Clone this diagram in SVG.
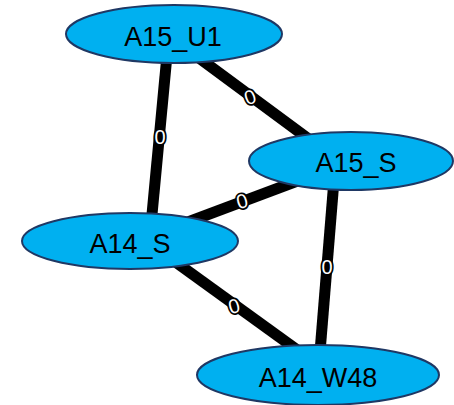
<svg xmlns="http://www.w3.org/2000/svg" width="454" height="405" viewBox="0 0 454 405">
<style>
.edge{stroke:#000;stroke-width:11;fill:none}
.node ellipse{fill:#00b0f0;stroke:#1f3864;stroke-width:2}
.node text{font-family:"Liberation Sans",Arial,sans-serif;font-size:27px;fill:#000;text-anchor:middle}
.lbl{font-family:"Liberation Sans",Arial,sans-serif;font-size:20px;fill:#fff;stroke:#000;stroke-width:3.5;paint-order:stroke;text-anchor:middle}
</style>
<rect width="454" height="405" fill="#fff"/>
<g id="connectors">
<line class="edge" x1="167" y1="55" x2="151" y2="225"/>
<line class="edge" x1="195" y1="55" x2="310" y2="140"/>
<line class="edge" x1="180" y1="225" x2="300" y2="180"/>
<line class="edge" x1="170" y1="258" x2="300" y2="352"/>
<line class="edge" x1="334" y1="180" x2="320" y2="352"/>
<text class="lbl" x="160" y="144">0</text>
<text class="lbl" x="250" y="104" transform="rotate(-20 250 97)">0</text>
<text class="lbl" x="242" y="208" transform="rotate(-15 242 201)">0</text>
<text class="lbl" x="234" y="313" transform="rotate(-15 234 306)">0</text>
<text class="lbl" x="327" y="274">0</text>
</g>
<g id="A15_U1" class="node"><ellipse cx="174" cy="34" rx="108" ry="29"/><text x="173" y="46">A15_U1</text></g>
<g id="A15_S" class="node"><ellipse cx="351" cy="161" rx="102" ry="29"/><text x="356" y="172">A15_S</text></g>
<g id="A14_S" class="node"><ellipse cx="130" cy="241" rx="108" ry="28"/><text x="130" y="253">A14_S</text></g>
<g id="A14_W48" class="node"><ellipse cx="318" cy="375" rx="121" ry="30"/><text x="318" y="387">A14_W48</text></g>
</svg>
